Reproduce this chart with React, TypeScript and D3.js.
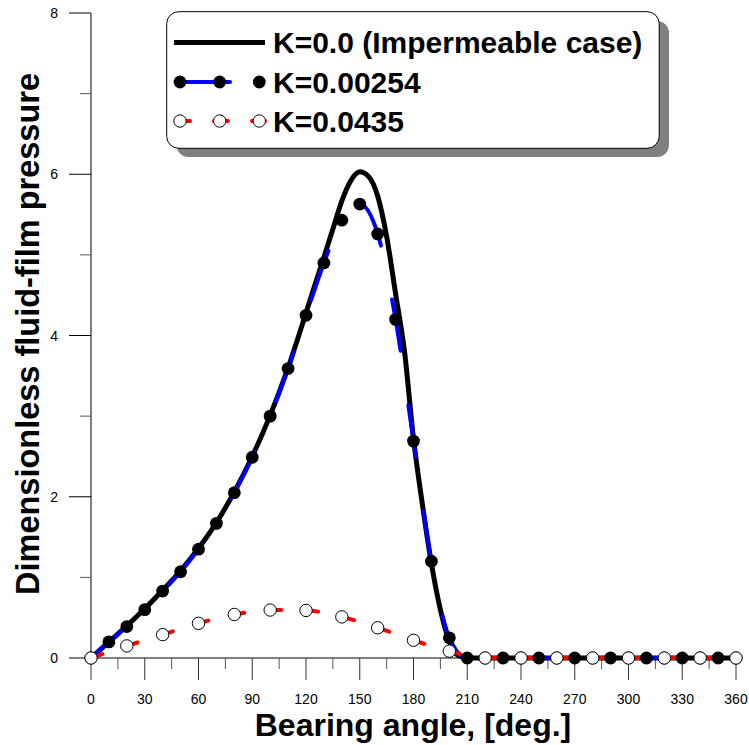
import React from "react";
import * as d3 from "d3";

// ---- data ----
const k0Angles = [0, 10, 20, 30, 40, 50, 60, 70, 80, 90, 100, 110, 120, 125, 130, 135, 140, 145, 150, 155, 160, 165, 170, 175, 180, 185, 190, 195, 200, 205, 210, 240, 270, 300, 330, 360];
const k0Values = [0, 0.2, 0.4, 0.61, 0.84, 1.08, 1.36, 1.68, 2.06, 2.5, 3.01, 3.6, 4.28, 4.63, 4.97, 5.32, 5.67, 5.92, 6.03, 5.97, 5.73, 5.23, 4.52, 3.8, 2.72, 1.9, 1.17, 0.6, 0.21, 0.03, 0, 0, 0, 0, 0, 0];

const k1Angles = [0, 10, 20, 30, 40, 50, 60, 70, 80, 90, 100, 110, 120, 130, 140, 150, 160, 170, 180, 190, 200, 210, 220, 230, 240, 250, 260, 270, 280, 290, 300, 310, 320, 330, 340, 350, 360];
const k1Values = [0, 0.2, 0.39, 0.6, 0.83, 1.07, 1.35, 1.67, 2.05, 2.49, 3.0, 3.59, 4.25, 4.9, 5.43, 5.63, 5.26, 4.2, 2.69, 1.2, 0.25, 0, 0, 0, 0, 0, 0, 0, 0, 0, 0, 0, 0, 0, 0, 0, 0];

const k2Angles = [0, 20, 40, 60, 80, 100, 120, 140, 160, 180, 200, 220, 240, 260, 280, 300, 320, 340, 360];
const k2Values = [0, 0.15, 0.29, 0.43, 0.54, 0.595, 0.59, 0.51, 0.375, 0.22, 0.085, 0, 0, 0, 0, 0, 0, 0, 0];

const xTicks = [0, 30, 60, 90, 120, 150, 180, 210, 240, 270, 300, 330, 360];
const xMinorTicks = [15, 45, 75, 105, 135, 165, 195, 225, 255, 285, 315, 345];
const yTicks = [0, 2, 4, 6, 8];
const yMinorTicks = [1, 3, 5, 7];

const legendLabels = ["K=0.0 (Impermeable case)", "K=0.00254", "K=0.0435"];

const FONT = "Arial, 'Liberation Sans', Helvetica, sans-serif";

export default function App() {
  const W = 749, H = 745;
  const x = d3.scaleLinear().domain([0, 360]).range([91, 736]);
  const y = d3.scaleLinear().domain([0, 8]).range([658, 13]);

  const mk = (a: number[], v: number[]) => a.map((d, i) => [d, v[i]] as [number, number]);
  const d0 = mk(k0Angles, k0Values);
  const d1 = mk(k1Angles, k1Values);
  const d2 = mk(k2Angles, k2Values);

  const line = d3.line<[number, number]>().x(d => x(d[0])).y(d => y(d[1])).curve(d3.curveMonotoneX);

  const legendRowsY = [42.6, 82, 121];
  const legendTextY = [53.3, 92.6, 131.8];

  return (
    <svg width={W} height={H} style={{ position: "absolute", left: 0, top: 0, background: "#fff" }} fontFamily={FONT}>
      <rect x={0} y={0} width={W} height={H} fill="#fff" />
      {/* axes */}
      <line x1={x(0)} x2={x(0)} y1={y(8)} y2={y(0)} stroke="#000" strokeWidth={1} />
      <line x1={x(0)} x2={x(360)} y1={y(0)} y2={y(0)} stroke="#000" strokeWidth={1} />
      {yTicks.map(t => (
        <g key={"yt" + t}>
          <line x1={x(0) - 22} x2={x(0)} y1={y(t)} y2={y(t)} stroke="#000" strokeWidth={1} />
          <text x={58} y={y(t) + 5} textAnchor="end" fontSize={14}>{t}</text>
        </g>
      ))}
      {yMinorTicks.map(t => (
        <line key={"ym" + t} x1={x(0) - 11} x2={x(0)} y1={y(t)} y2={y(t)} stroke="#555" strokeWidth={1} />
      ))}
      {xTicks.map(t => (
        <g key={"xt" + t}>
          <line x1={x(t)} x2={x(t)} y1={y(0)} y2={y(0) + 22} stroke="#333" strokeWidth={1} />
          <text x={x(t)} y={704} textAnchor="middle" fontSize={14}>{t}</text>
        </g>
      ))}
      {xMinorTicks.map(t => (
        <line key={"xm" + t} x1={x(t)} x2={x(t)} y1={y(0)} y2={y(0) + 11} stroke="#555" strokeWidth={1} />
      ))}

      {/* axis titles */}
      <text x={413} y={736} textAnchor="middle" fontSize={32} fontWeight="bold">Bearing angle, [deg.]</text>
      <text transform="translate(39,334) rotate(-90)" textAnchor="middle" fontSize={32.5} fontWeight="bold">Dimensionless fluid-film pressure</text>

      {/* series */}
      <path d={line(d0) || ""} fill="none" stroke="#000" strokeWidth={5} />
      <path d={line(d1) || ""} fill="none" stroke="#0000ff" strokeWidth={4} strokeDasharray="52,55" strokeLinecap="round" />
      <path d={line(d2) || ""} fill="none" stroke="#ff0000" strokeWidth={4} strokeDasharray="12,25" strokeLinecap="round" />
      {d1.map((d, i) => (
        <circle key={"b" + i} cx={x(d[0])} cy={y(d[1])} r={6.4} fill="#000" />
      ))}
      {d2.map((d, i) => (
        <circle key={"w" + i} cx={x(d[0])} cy={y(d[1])} r={6.2} fill="#fff" stroke="#000" strokeWidth={1} />
      ))}

      {/* legend */}
      <rect x={176.5} y={21} width={492.5} height={136} rx={12} ry={12} fill="#808080" />
      <rect x={166.7} y={11.7} width={492.5} height={136.6} rx={12} ry={12} fill="#fff" stroke="#000" strokeWidth={1} />
      <line x1={174} x2={265} y1={legendRowsY[0]} y2={legendRowsY[0]} stroke="#000" strokeWidth={5} />
      <line x1={176} x2={265} y1={legendRowsY[1]} y2={legendRowsY[1]} stroke="#0000ff" strokeWidth={4} strokeDasharray="54,60" strokeLinecap="round" />
      {[180, 219.7, 259.3].map((cx, i) => (
        <circle key={"lb" + i} cx={cx} cy={legendRowsY[1]} r={6.4} fill="#000" />
      ))}
      <line x1={176} x2={265} y1={legendRowsY[2]} y2={legendRowsY[2]} stroke="#ff0000" strokeWidth={4} strokeDasharray="14,24" strokeLinecap="round" />
      {[180, 219.7, 259.3].map((cx, i) => (
        <circle key={"lw" + i} cx={cx} cy={legendRowsY[2]} r={6.2} fill="#fff" stroke="#000" strokeWidth={1} />
      ))}
      {legendLabels.map((l, i) => (
        <text key={l} x={273} y={legendTextY[i]} fontSize={30} fontWeight="bold">{l}</text>
      ))}
    </svg>
  );
}
